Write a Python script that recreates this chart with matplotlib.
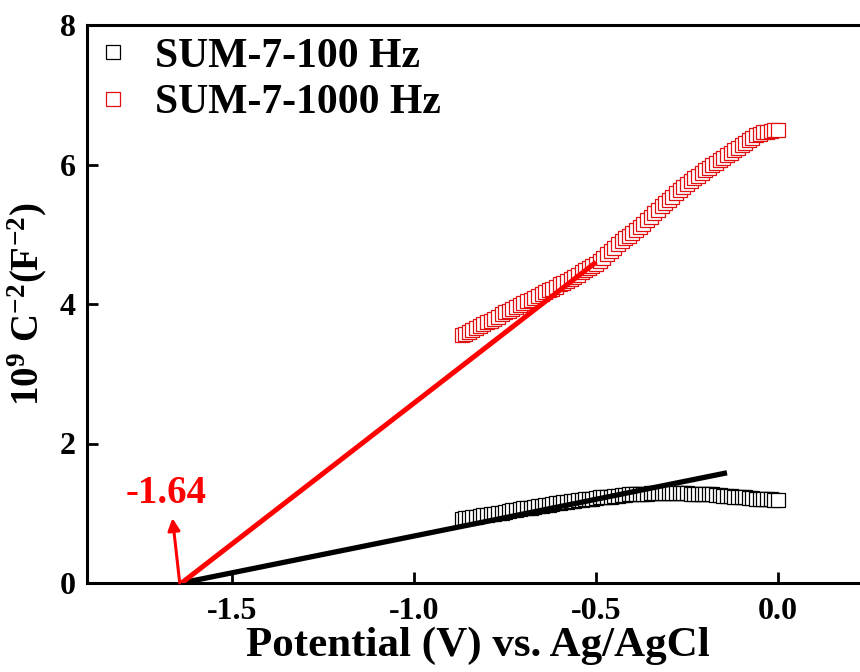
import matplotlib
matplotlib.use("Agg")
import matplotlib.pyplot as plt

# ---------------- data ----------------
potential = [-0.87, -0.86, -0.85, -0.84, -0.83, -0.82, -0.81, -0.80, -0.79, -0.78,
             -0.77, -0.76, -0.75, -0.74, -0.73, -0.72, -0.71, -0.70, -0.69, -0.68,
             -0.67, -0.66, -0.65, -0.64, -0.63, -0.62, -0.61, -0.60, -0.59, -0.58,
             -0.57, -0.56, -0.55, -0.54, -0.53, -0.52, -0.51, -0.50, -0.49, -0.48,
             -0.47, -0.46, -0.45, -0.44, -0.43, -0.42, -0.41, -0.40, -0.39, -0.38,
             -0.37, -0.36, -0.35, -0.34, -0.33, -0.32, -0.31, -0.30, -0.29, -0.28,
             -0.27, -0.26, -0.25, -0.24, -0.23, -0.22, -0.21, -0.20, -0.19, -0.18,
             -0.17, -0.16, -0.15, -0.14, -0.13, -0.12, -0.11, -0.10, -0.09, -0.08,
             -0.07, -0.06, -0.05, -0.04, -0.03, -0.02, -0.01, 0.00]

c2_1000hz = [3.55, 3.57, 3.60, 3.63, 3.65, 3.68, 3.71, 3.74, 3.76, 3.79,
             3.82, 3.85, 3.88, 3.90, 3.93, 3.96, 3.98, 4.01, 4.04, 4.06,
             4.09, 4.12, 4.14, 4.17, 4.20, 4.22, 4.25, 4.28, 4.30, 4.33,
             4.36, 4.39, 4.42, 4.46, 4.49, 4.52, 4.55, 4.58, 4.62, 4.66,
             4.71, 4.76, 4.81, 4.86, 4.90, 4.94, 4.98, 5.02, 5.06, 5.11,
             5.15, 5.20, 5.25, 5.30, 5.35, 5.40, 5.45, 5.49, 5.54, 5.59,
             5.63, 5.68, 5.72, 5.76, 5.80, 5.84, 5.88, 5.92, 5.95, 5.99,
             6.02, 6.06, 6.10, 6.13, 6.17, 6.21, 6.24, 6.28, 6.31, 6.35,
             6.38, 6.42, 6.44, 6.46, 6.47, 6.48, 6.49, 6.50]

c2_100hz = [0.92, 0.93, 0.93, 0.94, 0.95, 0.96, 0.97, 0.98, 0.99, 0.99,
            1.00, 1.01, 1.02, 1.03, 1.04, 1.05, 1.06, 1.07, 1.08, 1.08,
            1.09, 1.10, 1.11, 1.12, 1.12, 1.13, 1.14, 1.15, 1.16, 1.16,
            1.17, 1.18, 1.19, 1.19, 1.20, 1.21, 1.21, 1.22, 1.23, 1.23,
            1.24, 1.24, 1.25, 1.25, 1.26, 1.26, 1.27, 1.27, 1.27, 1.28,
            1.28, 1.28, 1.29, 1.29, 1.29, 1.29, 1.29, 1.29, 1.29, 1.29,
            1.29, 1.29, 1.29, 1.28, 1.28, 1.28, 1.28, 1.27, 1.27, 1.27,
            1.26, 1.26, 1.25, 1.25, 1.25, 1.24, 1.24, 1.23, 1.23, 1.22,
            1.22, 1.21, 1.21, 1.20, 1.20, 1.20, 1.19, 1.19]

fit_1000_x = [-1.64, -0.50]
fit_1000_y = [0.00, 4.60]
fit_100_x = [-1.64, -0.14]
fit_100_y = [0.00, 1.58]

intercept = -1.64
intercept_label = "-1.64"

x_ticks = [-1.5, -1.0, -0.5, 0.0]
x_ticklabels = ["-1.5", "-1.0", "-0.5", "0.0"]
y_ticks = [0, 2, 4, 6, 8]
y_ticklabels = ["0", "2", "4", "6", "8"]

labels = ["SUM-7-100 Hz", "SUM-7-1000 Hz"]

# ---------------- style ----------------
plt.rcParams['font.family'] = ['Liberation Serif', 'DejaVu Serif']
plt.rcParams['font.weight'] = 'bold'
plt.rcParams['axes.unicode_minus'] = False
plt.rcParams['mathtext.fontset'] = 'custom'
plt.rcParams['mathtext.rm'] = 'Liberation Serif:bold'
plt.rcParams['mathtext.bf'] = 'Liberation Serif:bold'
plt.rcParams['mathtext.it'] = 'Liberation Serif:bold'

fig = plt.figure(figsize=(8.6, 6.72), dpi=100)
ax = fig.add_axes([87/860, 89/672, 800/860, 558/672])

ms = 10.0
mew = 0.9
h100, = ax.plot(potential, c2_100hz, linestyle='none', marker='s', ms=ms,
                mfc='white', mec='black', mew=mew, label=labels[0], zorder=2)
h1000, = ax.plot(potential, c2_1000hz, linestyle='none', marker='s', ms=ms,
                 mfc='white', mec='#e01010', mew=mew, label=labels[1], zorder=2)

ax.plot(fit_100_x, fit_100_y, color='black', lw=3.8, solid_capstyle='butt', zorder=3)
ax.plot(fit_1000_x, fit_1000_y, color='red', lw=3.6, solid_capstyle='butt', zorder=3)

ax.annotate('', xy=(intercept - 0.025, 0.93), xytext=(intercept - 0.005, 0.0),
            arrowprops=dict(arrowstyle='-|>', color='red', lw=2.2,
                            mutation_scale=18, shrinkA=0, shrinkB=0), zorder=4)
ax.text(-1.795, 1.14, intercept_label, color='red', fontsize=28,
        fontweight='bold', ha='left', va='baseline')

ax.set_xlim(-1.9, 0.3)
ax.set_ylim(0, 8)
ax.set_xticks(x_ticks)
ax.set_xticklabels(x_ticklabels)
ax.set_yticks(y_ticks)
ax.set_yticklabels(y_ticklabels)
ax.tick_params(direction='in', length=8, width=2, labelsize=23, pad=8)
ax.tick_params(axis='x', pad=10)
for s in ax.spines.values():
    s.set_linewidth(2.2)

ax.set_xlabel('Potential (V) vs. Ag/AgCl', fontsize=31, fontweight='bold')
ax.xaxis.set_label_coords(0.489, -0.078, transform=ax.transAxes)
ax.xaxis.label.set_va('top')
ax.set_ylabel(r'$\mathbf{10^{9}\ C^{-2}(F^{-2})}$', fontsize=28, labelpad=8)

leg = ax.legend(handles=[h100, h1000], loc='upper left', bbox_to_anchor=(-0.014, 1.015),
                frameon=False, fontsize=30, handlelength=0.8, handletextpad=0.6,
                labelspacing=0.2, borderaxespad=0.1, numpoints=1)
for t in leg.get_texts():
    t.set_fontweight('bold')

fig.savefig('out.png', dpi=100)
